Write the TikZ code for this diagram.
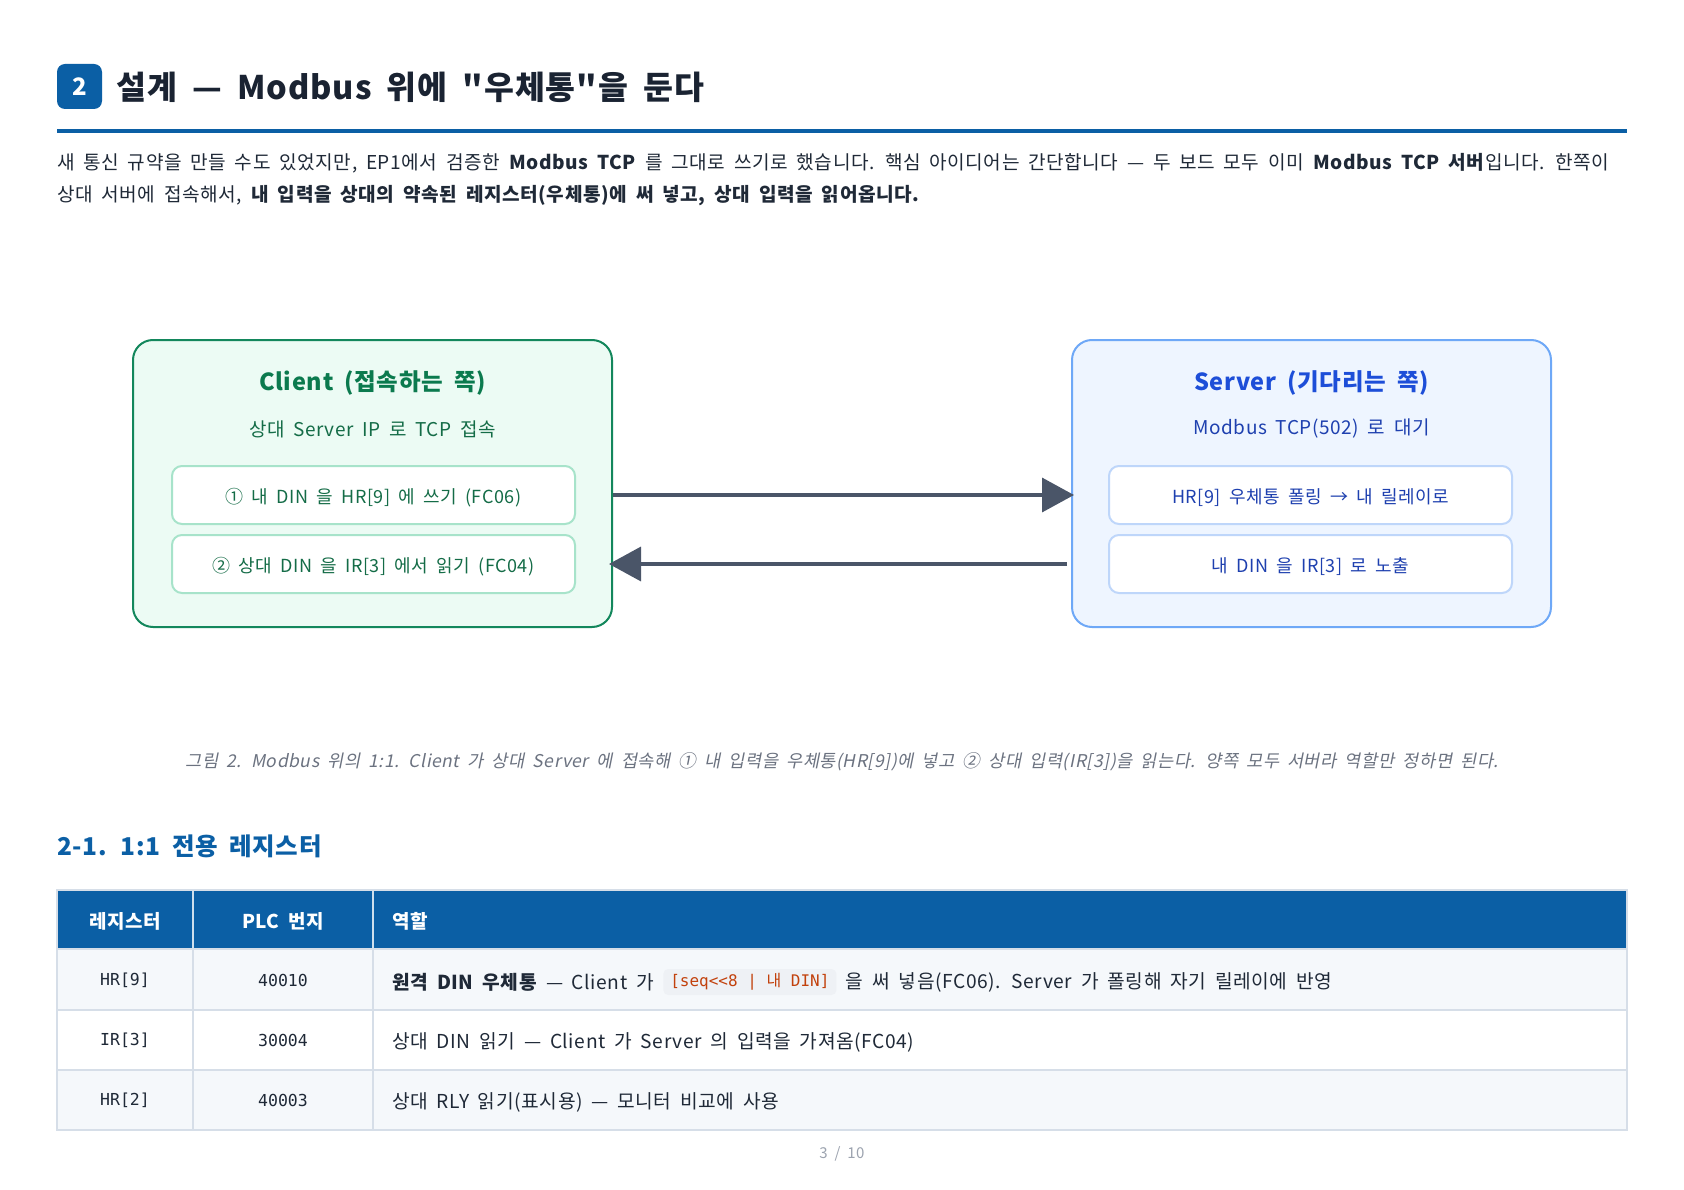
\documentclass[tikz,border=0pt]{standalone}
\usepackage{fontspec}
\setmainfont{Noto Sans CJK KR}[Ligatures=TeXOff, WordSpace=1.8, LetterSpace=3]
\setmonofont{DejaVu Sans Mono}
\newfontfamily\capfont{Noto Sans CJK KR}[Ligatures=TeXOff, FakeSlant=0.2, WordSpace=1.8, LetterSpace=3]
\usetikzlibrary{arrows.meta}
\definecolor{bluemain}{HTML}{0B5FA5}
\definecolor{titledark}{HTML}{1A2332}
\definecolor{bodytext}{HTML}{1F2937}
\definecolor{cfill}{HTML}{ECFBF4}
\definecolor{cborder}{HTML}{13875C}
\definecolor{ctitle}{HTML}{0B7A4E}
\definecolor{ctext}{HTML}{146C47}
\definecolor{cinborder}{HTML}{A7E3CA}
\definecolor{sfill}{HTML}{EEF5FF}
\definecolor{sborder}{HTML}{6EA8F7}
\definecolor{stitle}{HTML}{1D4ED8}
\definecolor{stext}{HTML}{1E40AF}
\definecolor{sinborder}{HTML}{BED6FA}
\definecolor{arrowcol}{HTML}{4A5568}
\definecolor{capgray}{HTML}{6B7280}
\definecolor{rowfill}{HTML}{F5F8FB}
\definecolor{gridcol}{HTML}{D6DEE8}
\definecolor{chipfill}{HTML}{EEF1F5}
\definecolor{chiptext}{HTML}{C2410C}
\definecolor{pagegray}{HTML}{9CA3AF}
\newcommand\fsz[2]{\fontsize{#1}{#2}\selectfont}
\tikzset{
  bigbox/.style={rounded corners=20pt, line width=2pt, minimum width=479pt, minimum height=287pt, inner sep=0pt},
  clientbox/.style={bigbox, draw=cborder, fill=cfill},
  serverbox/.style={bigbox, draw=sborder, fill=sfill},
  innerbox/.style={rounded corners=10pt, line width=2pt, fill=white, minimum width=403pt, minimum height=58pt, inner sep=0pt},
  cinner/.style={innerbox, draw=cinborder},
  sinner/.style={innerbox, draw=sinborder},
  innertext/.style={inner sep=0pt, font=\fsz{18}{22}},
  boxtitle/.style={font=\fsz{23.5}{28}\bfseries},
  boxsub/.style={font=\fsz{19}{23}},
  arrowline/.style={draw=arrowcol, line width=3.5pt, -{Triangle[length=32pt,width=34pt]}},
  para/.style={anchor=west, inner sep=0pt, text=bodytext, font=\fsz{19.1}{23}},
  headcell/.style={text=white, font=\fsz{19}{23}\bfseries, inner sep=0pt},
  monocell/.style={text=bodytext, font=\fsz{16.5}{20}\ttfamily, inner sep=0pt},
  rolecell/.style={anchor=west, text=bodytext, font=\fsz{19.2}{23}, inner sep=0pt},
  gridline/.style={draw=gridcol, line width=1.5pt}
}
\begin{document}
\begin{tikzpicture}[x=1pt,y=-1pt]
\useasboundingbox[fill=white] (0,0) rectangle (1684,1190);
% heading
\node[fill=bluemain, rounded corners=8pt, minimum width=45pt, minimum height=45pt, inner sep=0pt, text=white, font=\fsz{24}{28}\bfseries] (badge) at (79.5,86.5) {2};
\node[anchor=west, inner sep=0pt, text=titledark, font=\fsz{32.5}{40}\bfseries] (title) at (116,87) {설계 — Modbus 위에 "우체통"을 둔다};
\draw[bluemain, line width=4pt] (57,131) -- (1627,131);
\node[para] (p1) at (57,163) {새 통신 규약을 만들 수도 있었지만, EP1에서 검증한 \textbf{Modbus TCP} 를 그대로 쓰기로 했습니다. 핵심 아이디어는 간단합니다 — 두 보드 모두 이미 \textbf{Modbus TCP 서버}입니다. 한쪽이};
\node[para] (p2) at (57,196) {상대 서버에 접속해서, \textbf{내 입력을 상대의 약속된 레지스터(우체통)에 써 넣고, 상대 입력을 읽어옵니다.}};
% client
\node[clientbox] (client) at (372.5,483.5) {};
\node[boxtitle, text=ctitle] (ctitle) at (372.5,383) {Client (접속하는 쪽)};
\node[boxsub, text=ctext] (csub) at (372.5,429) {상대 Server IP 로 TCP 접속};
\node[cinner] (cin1) at (373.5,495) {};
\node[cinner] (cin2) at (373.5,564) {};
\node[innertext, text=ctext] (cin1t) at ([yshift=-3pt]cin1.center) {① 내 DIN 을 HR[9] 에 쓰기 (FC06)};
\node[innertext, text=ctext] (cin2t) at ([yshift=-3pt]cin2.center) {② 상대 DIN 을 IR[3] 에서 읽기 (FC04)};
% server
\node[serverbox] (server) at (1311.5,483.5) {};
\node[boxtitle, text=stitle] (stitle) at (1311.5,383) {Server (기다리는 쪽)};
\node[boxsub, text=stext] (ssub) at (1311.5,429) {Modbus TCP(502) 로 대기};
\node[sinner] (sin1) at (1310.5,495) {};
\node[sinner] (sin2) at (1310.5,564) {};
\node[innertext, text=stext] (sin1t) at ([yshift=-3pt]sin1.center) {HR[9] 우체통 폴링 → 내 릴레이로};
\node[innertext, text=stext] (sin2t) at ([yshift=-3pt]sin2.center) {내 DIN 을 IR[3] 로 노출};
% arrows
\draw[arrowline] (client.east |- cin1) -- ([xshift=3pt]server.west |- sin1);
\draw[arrowline] ([xshift=-4pt]server.west |- sin2) -- ([xshift=-4pt]client.east |- cin2);
% caption
\node[inner sep=0pt, text=capgray, font=\fsz{17.6}{21}\capfont] (caption) at (842,762) {그림 2. Modbus 위의 1:1. Client 가 상대 Server 에 접속해 ① 내 입력을 우체통(HR[9])에 넣고 ② 상대 입력(IR[3])을 읽는다. 양쪽 모두 서버라 역할만 정하면 된다.};
% section heading
\node[anchor=west, inner sep=0pt, text=bluemain, font=\fsz{24.5}{30}\bfseries] (sec) at (57,846) {2-1. 1:1 전용 레지스터};
% table
\fill[bluemain] (57,890) rectangle (1627,949);
\fill[rowfill] (57,949) rectangle (1627,1010);
\fill[white] (57,1010) rectangle (1627,1070);
\fill[rowfill] (57,1070) rectangle (1627,1130);
\draw[gridline] (57,949) -- (1627,949);
\draw[gridline] (57,1010) -- (1627,1010);
\draw[gridline] (57,1070) -- (1627,1070);
\draw[gridline] (193,949) -- (193,1130);
\draw[gridline] (373,949) -- (373,1130);
\draw[draw=white!80!bluemain, line width=1.5pt] (193,890) -- (193,949);
\draw[draw=white!80!bluemain, line width=1.5pt] (373,890) -- (373,949);
\draw[gridline] (57,890) rectangle (1627,1130);
\node[headcell] (h1) at (125,921) {레지스터};
\node[headcell] (h2) at (283,921) {PLC 번지};
\node[headcell, anchor=west] (h3) at (392,921) {역할};
\node[monocell] (r1a) at (125,980) {HR[9]};
\node[monocell] (r1b) at (283,980) {40010};
\node[rolecell] (r1c) at (392,982) {\textbf{원격 DIN 우체통} — Client 가};
\node[anchor=west, fill=chipfill, rounded corners=5pt, text=chiptext, font=\fsz{16}{19}\ttfamily, inner xsep=7pt, inner ysep=4pt, minimum height=26pt] (chip) at ([xshift=9pt]r1c.east) {[seq<<8 | {\normalfont 내} DIN]};
\node[rolecell] (r1d) at ([xshift=9pt]chip.east |- r1c) {을 써 넣음(FC06). Server 가 폴링해 자기 릴레이에 반영};
\node[monocell] (r2a) at (125,1040) {IR[3]};
\node[monocell] (r2b) at (283,1040) {30004};
\node[rolecell] (r2c) at (392,1042) {상대 DIN 읽기 — Client 가 Server 의 입력을 가져옴(FC04)};
\node[monocell] (r3a) at (125,1100) {HR[2]};
\node[monocell] (r3b) at (283,1100) {40003};
\node[rolecell] (r3c) at (392,1102) {상대 RLY 읽기(표시용) — 모니터 비교에 사용};
% page number
\node[inner sep=0pt, text=pagegray, font=\fsz{15}{18}] (page) at (842,1154) {3 / 10};
\end{tikzpicture}
\end{document}
